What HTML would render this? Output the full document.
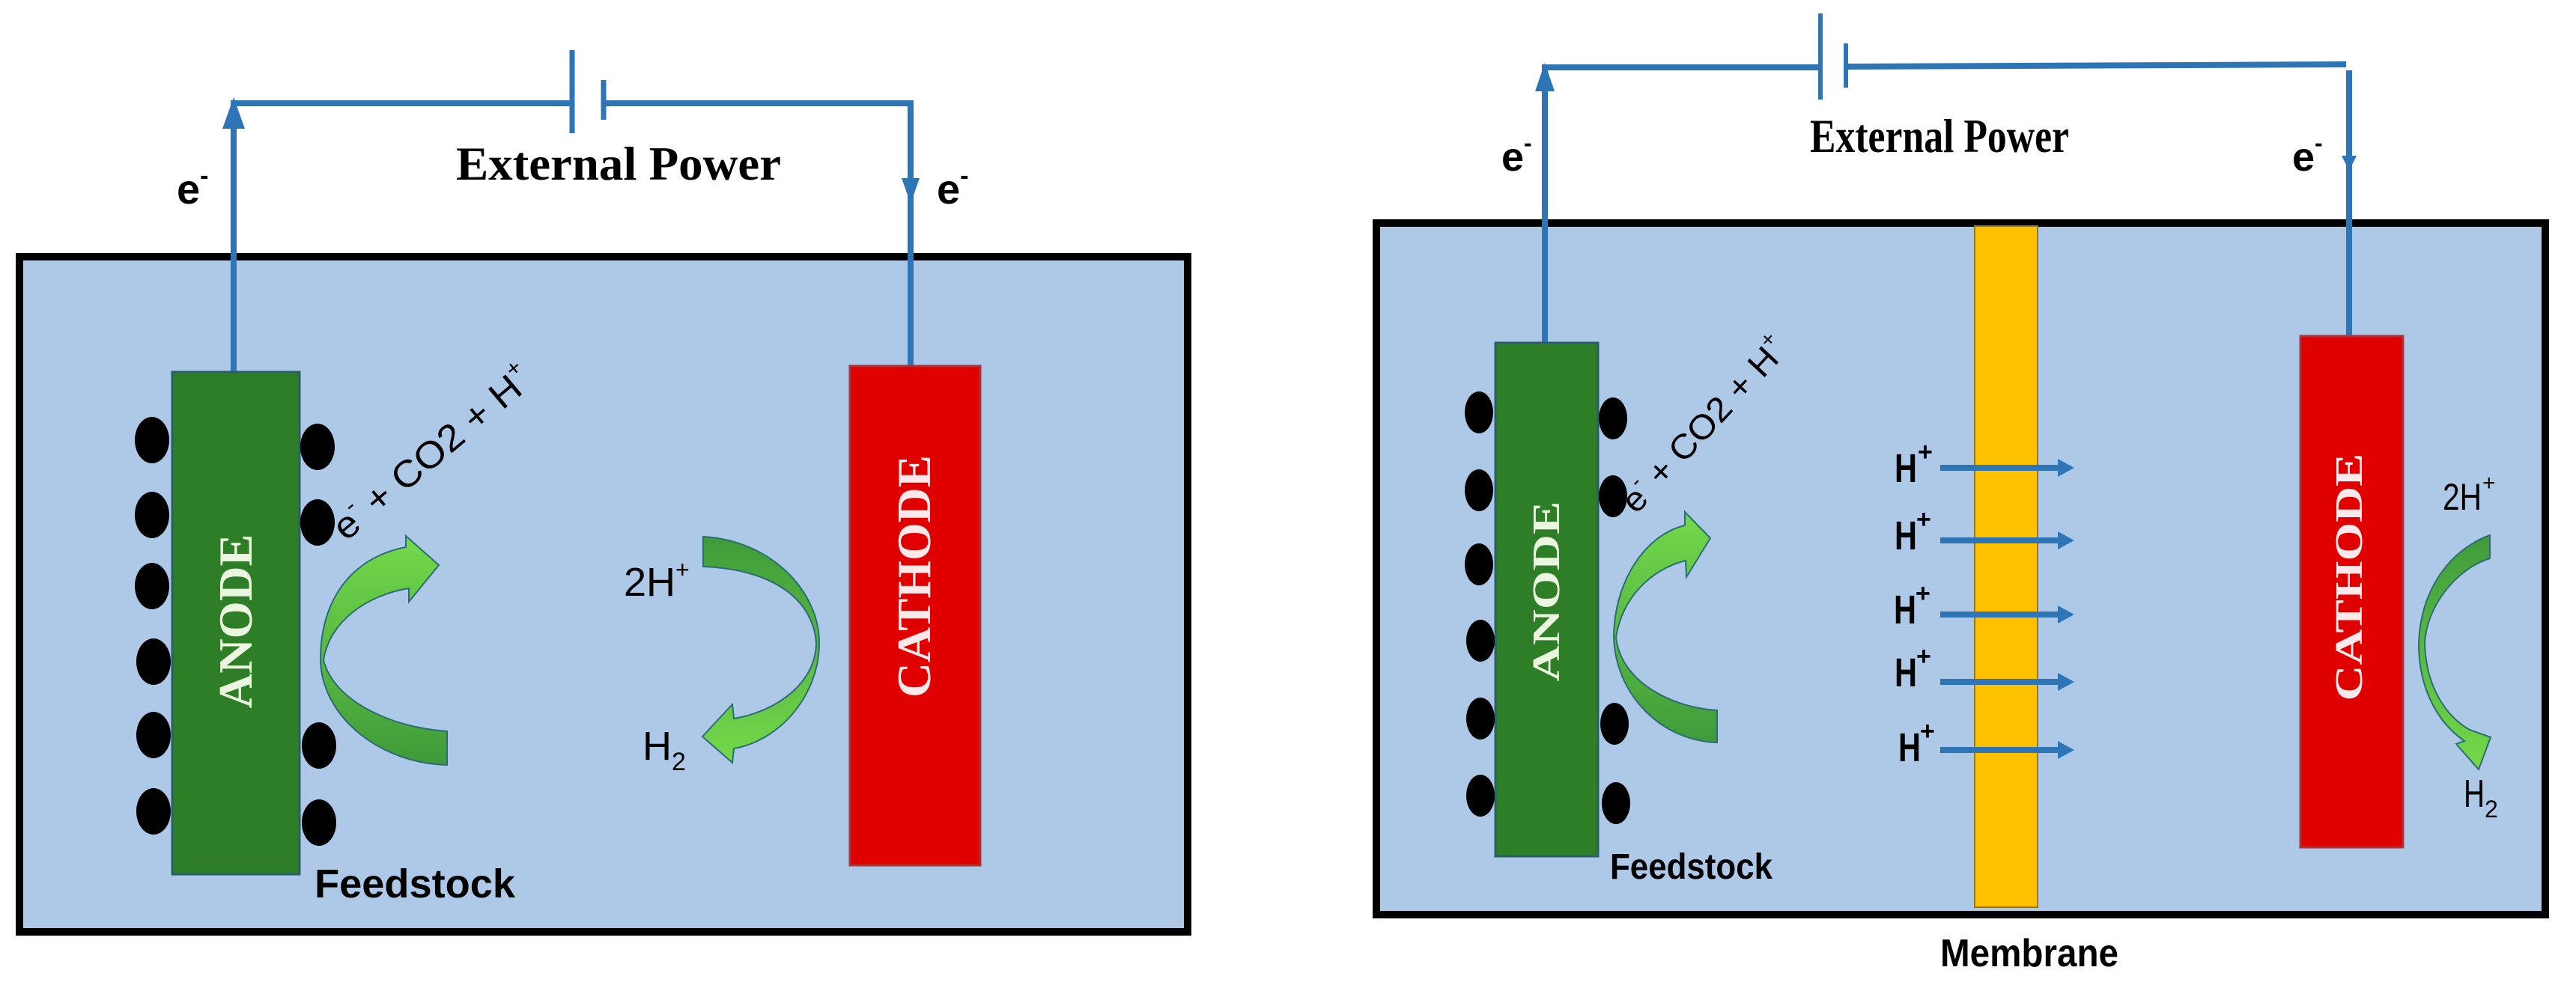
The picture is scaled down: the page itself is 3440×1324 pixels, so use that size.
<!DOCTYPE html>
<html><head><meta charset="utf-8"><style>
html,body{margin:0;padding:0;background:#fff;}
svg{display:block;}
.sans{font-family:"Liberation Sans",sans-serif;}
.serif{font-family:"Liberation Serif",serif;font-weight:bold;}
</style></head><body>
<svg width="3440" height="1324" viewBox="0 0 3440 1324" xmlns="http://www.w3.org/2000/svg">
<defs>
<linearGradient id="g1" x1="0" y1="1" x2="0" y2="0"><stop offset="0" stop-color="#3f9b3a"/><stop offset="1" stop-color="#74d94a"/></linearGradient>
<linearGradient id="g2" x1="0" y1="0" x2="0" y2="1"><stop offset="0" stop-color="#3f9b3a"/><stop offset="1" stop-color="#74d94a"/></linearGradient>
</defs>
<rect width="3440" height="1324" fill="#fff"/>

<!-- LEFT PANEL -->
<rect x="26" y="343" width="1560" height="902" fill="#aec8e8" stroke="#000" stroke-width="10"/>
<g stroke="#2e75b6" stroke-width="8" fill="none">
<polyline points="312,497 312,138 764,138"/>
<polyline points="806,138 1216,138 1216,489"/>
</g>
<line x1="764" y1="67" x2="764" y2="178" stroke="#2e75b6" stroke-width="7"/>
<line x1="806" y1="107" x2="806" y2="160" stroke="#2e75b6" stroke-width="7"/>
<polygon points="312,130 297,172 327,172" fill="#2e75b6"/>
<polygon points="1204,238 1228,238 1216,272" fill="#2e75b6"/>
<text class="serif" x="609" y="240" font-size="64" textLength="434" lengthAdjust="spacingAndGlyphs">External Power</text>
<text class="sans" x="236" y="272" font-size="56" font-weight="bold">e<tspan font-size="34" dy="-26">-</tspan></text>
<text class="sans" x="1251" y="272" font-size="56" font-weight="bold">e<tspan font-size="34" dy="-26">-</tspan></text>

<rect x="230" y="497" width="170" height="671" fill="#2e7d27" stroke="#2a5f6a" stroke-width="3"/>
<rect x="1135" y="489" width="174" height="667" fill="#e00000" stroke="#a8343c" stroke-width="3"/>
<text class="serif" transform="translate(336,830) rotate(-90)" text-anchor="middle" font-size="64" fill="#eaf6df" textLength="233" lengthAdjust="spacingAndGlyphs">ANODE</text>
<text class="serif" transform="translate(1242,770) rotate(-90)" text-anchor="middle" font-size="64" fill="#fde9e9" textLength="324" lengthAdjust="spacingAndGlyphs">CATHODE</text>

<g fill="#000">
<ellipse cx="203" cy="588" rx="23" ry="31"/><ellipse cx="203" cy="688" rx="23" ry="31"/><ellipse cx="203" cy="783" rx="23" ry="31"/><ellipse cx="205" cy="884" rx="23" ry="31"/><ellipse cx="205" cy="982" rx="23" ry="31"/><ellipse cx="205" cy="1084" rx="23" ry="31"/>
<ellipse cx="424" cy="597" rx="23" ry="31"/><ellipse cx="424" cy="698" rx="23" ry="31"/><ellipse cx="426" cy="996" rx="23" ry="31"/><ellipse cx="426" cy="1099" rx="23" ry="31"/>
</g>

<path d="M597,977 C520,972 445,935 432,882 C440,830 490,795 546,786 L546,804 L586,755 L542,716 L542,731 C470,745 428,800 428,882 C430,960 510,1020 597,1022 Z" fill="url(#g1)" stroke="#2a6e72" stroke-width="2"/>
<path d="M939,717 C1030,722 1094,790 1094,859 C1094,930 1040,990 980,1000 L978,1019 L938,984 L978,941 L980,960 C1040,950 1090,910 1090,859 C1086,800 1030,760 939,757 Z" fill="url(#g2)" stroke="#2a6e72" stroke-width="2"/>

<text class="sans" transform="translate(462,724) rotate(-40)" font-size="50" textLength="330" lengthAdjust="spacingAndGlyphs">e<tspan font-size="30" dy="-24">-</tspan><tspan dy="24"> + CO2 + H</tspan><tspan font-size="30" dy="-24">+</tspan></text>
<text class="sans" x="833" y="796" font-size="54">2H<tspan font-size="32" dy="-24">+</tspan></text>
<text class="sans" x="858" y="1015" font-size="54">H<tspan font-size="34" dy="14">2</tspan></text>
<text class="sans" x="420" y="1199" font-size="54" font-weight="bold" textLength="268" lengthAdjust="spacingAndGlyphs">Feedstock</text>

<!-- RIGHT PANEL -->
<rect x="1838" y="298" width="1561" height="924" fill="#aec8e8" stroke="#000" stroke-width="10"/>
<rect x="2637" y="302" width="84" height="910" fill="#ffc000" stroke="#8a7a30" stroke-width="2"/>
<g stroke="#2e75b6" stroke-width="8" fill="none">
<polyline points="2063,458 2063,90 2431,90"/>
<polyline points="2465,89 3133,86"/>
<polyline points="3137,94 3137,449"/>
</g>
<line x1="2431" y1="18" x2="2431" y2="133" stroke="#2e75b6" stroke-width="6"/>
<line x1="2465" y1="58" x2="2465" y2="117" stroke="#2e75b6" stroke-width="6"/>
<polygon points="2063,84 2050,122 2076,122" fill="#2e75b6"/>
<polygon points="3127,208 3147,208 3137,228" fill="#2e75b6"/>
<text class="serif" x="2417" y="203" font-size="64" textLength="346" lengthAdjust="spacingAndGlyphs">External Power</text>
<text class="sans" x="2005" y="228" font-size="54" font-weight="bold">e<tspan font-size="32" dy="-26">-</tspan></text>
<text class="sans" x="3061" y="228" font-size="54" font-weight="bold">e<tspan font-size="32" dy="-26">-</tspan></text>

<rect x="1997" y="458" width="137" height="686" fill="#2e7d27" stroke="#2a5f6a" stroke-width="3"/>
<rect x="3072" y="449" width="137" height="683" fill="#e00000" stroke="#a8343c" stroke-width="3"/>
<text class="serif" transform="translate(2082,790) rotate(-90)" text-anchor="middle" font-size="52" fill="#eaf6df" textLength="241" lengthAdjust="spacingAndGlyphs">ANODE</text>
<text class="serif" transform="translate(3154,771) rotate(-90)" text-anchor="middle" font-size="52" fill="#fde9e9" textLength="331" lengthAdjust="spacingAndGlyphs">CATHODE</text>

<g fill="#000">
<ellipse cx="1975" cy="551" rx="19" ry="28"/><ellipse cx="1975" cy="655" rx="19" ry="28"/><ellipse cx="1975" cy="754" rx="19" ry="28"/><ellipse cx="1977" cy="856" rx="19" ry="28"/><ellipse cx="1977" cy="960" rx="19" ry="28"/><ellipse cx="1977" cy="1063" rx="19" ry="28"/>
<ellipse cx="2154" cy="559" rx="19" ry="28"/><ellipse cx="2154" cy="663" rx="19" ry="28"/><ellipse cx="2156" cy="967" rx="19" ry="28"/><ellipse cx="2158" cy="1073" rx="19" ry="28"/>
</g>

<path d="M2293,949 C2230,945 2165,910 2158,852 C2165,800 2205,760 2251,749 L2252,771 L2284,719 L2250,684 L2250,702 C2195,715 2155,780 2155,852 C2158,930 2220,990 2293,992 Z" fill="url(#g1)" stroke="#2a6e72" stroke-width="2"/>
<path d="M3325,715 L3325,746 C3280,760 3240,810 3238,860 C3240,920 3268,958 3298,975 L3326,985 L3310,1028 L3280,994 L3291,990 C3255,965 3230,920 3230,860 C3232,790 3270,735 3325,715 Z" fill="url(#g2)" stroke="#2a6e72" stroke-width="2"/>

<text class="sans" transform="translate(2185,688) rotate(-47)" font-size="46" textLength="300" lengthAdjust="spacingAndGlyphs">e<tspan font-size="28" dy="-22">-</tspan><tspan dy="22"> + CO2 + H</tspan><tspan font-size="28" dy="-22">+</tspan></text>

<g stroke="#2e75b6" stroke-width="8">
<line x1="2591" y1="625" x2="2750" y2="625"/><line x1="2591" y1="722" x2="2750" y2="722"/><line x1="2591" y1="821" x2="2750" y2="821"/><line x1="2591" y1="911" x2="2750" y2="911"/><line x1="2591" y1="1002" x2="2750" y2="1002"/>
</g>
<g fill="#2e75b6">
<polygon points="2748,613 2770,625 2748,637"/><polygon points="2748,710 2770,722 2748,734"/><polygon points="2748,809 2770,821 2748,833"/><polygon points="2748,899 2770,911 2748,923"/><polygon points="2748,990 2770,1002 2748,1014"/>
</g>
<g class="sans" font-size="54" font-weight="bold">
<text x="2530" y="644" textLength="30" lengthAdjust="spacingAndGlyphs">H</text><text x="2561" y="615" font-size="34">+</text>
<text x="2530" y="734" textLength="30" lengthAdjust="spacingAndGlyphs">H</text><text x="2559" y="705" font-size="34">+</text>
<text x="2529" y="833" textLength="30" lengthAdjust="spacingAndGlyphs">H</text><text x="2558" y="804" font-size="34">+</text>
<text x="2530" y="917" textLength="30" lengthAdjust="spacingAndGlyphs">H</text><text x="2559" y="888" font-size="34">+</text>
<text x="2535" y="1017" textLength="30" lengthAdjust="spacingAndGlyphs">H</text><text x="2564" y="988" font-size="34">+</text>
</g>
<text class="sans" x="3262" y="681" font-size="50" textLength="52" lengthAdjust="spacingAndGlyphs">2H</text><text class="sans" x="3315" y="655" font-size="30">+</text>
<text class="sans" x="3290" y="1078" font-size="52" textLength="28" lengthAdjust="spacingAndGlyphs">H</text><text class="sans" x="3318" y="1092" font-size="32">2</text>
<text class="sans" x="2150" y="1174" font-size="48" font-weight="bold" textLength="217" lengthAdjust="spacingAndGlyphs">Feedstock</text>
<text class="sans" x="2591" y="1291" font-size="52" font-weight="bold" textLength="238" lengthAdjust="spacingAndGlyphs">Membrane</text>
</svg>
</body></html>
